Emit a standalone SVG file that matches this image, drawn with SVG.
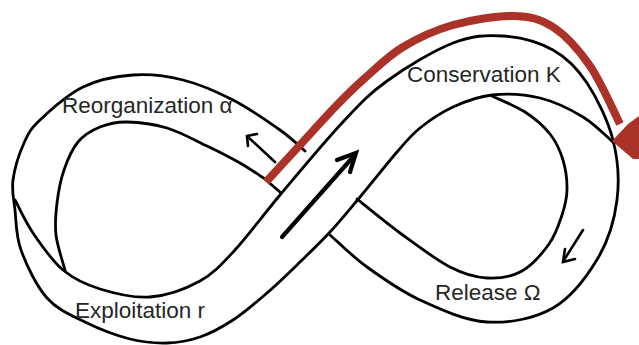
<svg xmlns="http://www.w3.org/2000/svg" width="639" height="345" viewBox="0 0 639 345">
<style>
.rib{fill:none;stroke:#000;stroke-width:2.8;stroke-linecap:round;stroke-linejoin:round}
.arw{fill:none;stroke:#000;stroke-linecap:round;stroke-linejoin:miter}
.lbl{font-family:"Liberation Sans",Arial,sans-serif;font-size:22.5px;fill:#262626}
.red{fill:none;stroke:#ab3229;stroke-width:8}
</style>
<rect width="639" height="345" fill="#fff"/>
<g id="ribbon">
<path class="rib" d="M15,200 C18,205.5 25,221.3 33,233 S51.8,260.7 63,270 S85.5,284.5 100,289 S133.3,298.3 150,297 S185.8,288.8 200,281 S221.7,264.3 235,250 S262.2,216.2 280,195 S324.2,142 342,123 S368.5,94.3 387,81 S433.7,50.5 453,43 S486.3,34.8 503,36 S539,42.2 553,50 S577,68 587,83 S608,120.5 613,140 S619.5,180.3 617,200 S608.7,240 598,258 S571.5,297.3 553,308 S509.2,323.3 487,322 S440,309.2 420,300 S382,277.8 367,267 S336.2,240.3 330,235"/>
<path class="rib" d="M305,151 C300.8,147.5 292,138.5 280,130 S249.2,108.3 233,100 S199.7,84.2 183,80 S149.7,73.8 133,75 S98.5,79.5 83,87 S49.8,110.7 40,120 S28.5,133 24,143 S14.5,168.8 13,180 S13.7,198.3 15,210 S15.7,235.3 21,250 S36.3,286 47,298 S71.2,315.2 85,322 S116.3,335.5 130,339 S155.3,343.3 167,343 S189,340.8 200,337 S221.8,327.3 233,320 S255.8,302.7 267,293 S289.5,272.2 300,262 S320,242.8 330,232 S348.8,210.3 360,197 S387,163.5 397,152 S410.7,135.5 420,128 S441,112.5 453,107 S477.5,96.5 492,95 S524.8,94.3 540,98 S570.7,109.5 583,117 S608.8,138.7 614,143"/>
<path class="rib" d="M265,179 C260.8,176.3 249.7,168.5 240,163 S219.2,151.8 207,146 S180.3,132 167,128 S138.2,122.2 127,122 S108.2,123.7 100,127 S84,134.8 78,142 S67.5,159.8 64,170 S58.3,192.2 57,203 S54.7,223.8 56,235 S63.5,264.2 65,270"/>
<path class="rib" d="M265,179 L281,193"/>
<path class="rib" d="M357,199 C364.2,204.7 384.5,221.7 400,233 S435.5,259.5 450,267 S475,277.3 487,278 S511.7,276.7 522,271 S542.3,253.3 549,244 S559,224 562,215 S566.8,199.2 567,190 S565.8,169.3 563,160 S556.3,142 550,134 S534.7,118.3 525,112 S497.5,98.7 492,96"/>
</g>
<g id="labels">
<g id="reorganization"><text class="lbl" x="62" y="113">Reorganization α</text></g>
<g id="conservation"><text class="lbl" x="407" y="82">Conservation K</text></g>
<g id="exploitation"><text class="lbl" x="75" y="318">Exploitation r</text></g>
<g id="release"><text class="lbl" x="435" y="300">Release Ω</text></g>
</g>
<g id="connectors">
<path class="red" d="M266,182 C271.7,175.8 288.3,157.7 300,145 S325.2,117.2 336,106 S353.8,87.8 365,78 S388.3,55.8 403,47 S434.7,30.2 453,25 S496.3,15.7 513,16 S540.2,18.7 553,27 S578.8,49.8 590,66 S615,114.3 620,124"/>
<polygon points="612,141 628,124 639,116 639,159 633,159" fill="#ab3229"/>
<path class="arw" stroke-width="4.2" d="M282,237 L353,157"/>
<path class="arw" stroke-width="4.2" d="M337,160 L356,153 L350,172"/>
<path class="arw" stroke-width="2.6" d="M275,162 L248,137"/>
<path class="arw" stroke-width="2.6" d="M257,134 L247,136 L248,146"/>
<path class="arw" stroke-width="2.6" d="M583,230 L564,260"/>
<path class="arw" stroke-width="2.6" d="M565,249 L563,262 L575,259"/>
</g>
</svg>
